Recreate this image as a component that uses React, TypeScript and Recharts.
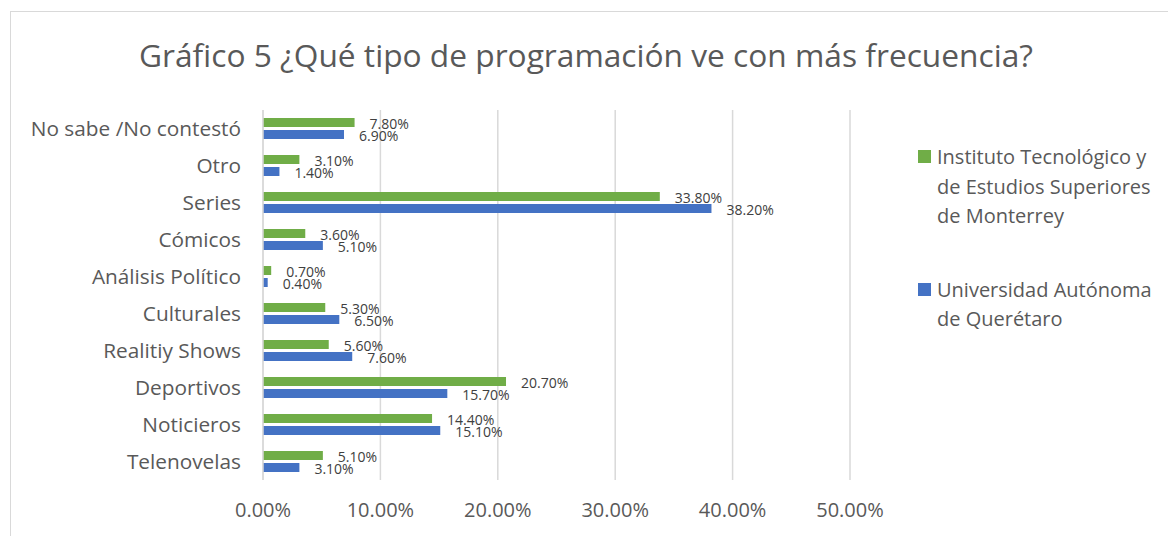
import React from 'react';
import { BarChart, Bar, XAxis, YAxis, CartesianGrid, LabelList } from 'recharts';

const categories = [
  'No sabe /No contestó',
  'Otro',
  'Series',
  'Cómicos',
  'Análisis Político',
  'Culturales',
  'Realitiy Shows',
  'Deportivos',
  'Noticieros',
  'Telenovelas',
];

const itesmValues = [7.8, 3.1, 33.8, 3.6, 0.7, 5.3, 5.6, 20.7, 14.4, 5.1];
const uaqValues = [6.9, 1.4, 38.2, 5.1, 0.4, 6.5, 7.6, 15.7, 15.1, 3.1];

const xTicks = [0, 10, 20, 30, 40, 50];

const FONT = '"Open Sans", sans-serif';
const GREEN = '#70ad47';
const BLUE = '#4472c4';
const TEXT = '#595959';

const data = categories.map((name, i) => ({
  name,
  itesm: itesmValues[i],
  uaq: uaqValues[i],
}));

const pct = (v: number) => `${Number(v).toFixed(2)}%`;

const legendItems = [
  { color: GREEN, lines: ['Instituto Tecnológico y', 'de Estudios Superiores', 'de Monterrey'] },
  { color: BLUE, lines: ['Universidad Autónoma', 'de Querétaro'] },
];

const ChartLegend = () => (
  <div style={{ fontFamily: FONT, fontSize: 20, color: TEXT, lineHeight: '29.5px' }}>
    {legendItems.map((item, idx) => (
      <div key={idx} style={{ display: 'flex', alignItems: 'flex-start', marginBottom: idx === 0 ? 44 : 0 }}>
        <div style={{ width: 13, height: 13, background: item.color, marginTop: 8, marginRight: 6, flexShrink: 0 }} />
        <div>
          {item.lines.map((l) => (
            <div key={l} style={{ whiteSpace: 'nowrap' }}>{l}</div>
          ))}
        </div>
      </div>
    ))}
  </div>
);

// data labels sit a little below the bar centre, as in the original
const labelStyle = { fill: '#404040', fontSize: 14, fontFamily: FONT };

export default function App() {
  return (
    <div style={{ position: 'relative', width: 1168, height: 528, overflow: 'hidden', background: '#fff' }}>
      <div
        style={{
          position: 'absolute', left: 2, top: 3, width: 1300, height: 700,
          border: '1.5px solid #d9d9d9', boxSizing: 'border-box',
        }}
      />
      <div
        style={{
          position: 'absolute', left: 0, width: 1156, top: 27, textAlign: 'center',
          fontFamily: FONT, fontSize: 31.7, color: TEXT, lineHeight: '40px', whiteSpace: 'nowrap',
        }}
      >
        Gráfico 5 ¿Qué tipo de programación ve con más frecuencia?
      </div>
      <div style={{ position: 'absolute', left: 0, top: 0 }}>
        <BarChart
          width={1168}
          height={528}
          data={data}
          layout="vertical"
          margin={{ top: 102, right: 326, bottom: 16, left: 10 }}
          barSize={9}
          barGap={3}
        >
          <CartesianGrid horizontal={false} stroke="#d9d9d9" strokeWidth={1.5} />
          <XAxis
            type="number"
            domain={[0, 50]}
            ticks={xTicks}
            tickFormatter={pct}
            axisLine={false}
            tickLine={false}
            tick={{ fill: TEXT, fontSize: 20, fontFamily: FONT }}
            tickMargin={17}
            height={40}
            interval={0}
          />
          <YAxis
            type="category"
            dataKey="name"
            width={245}
            axisLine={{ stroke: '#d9d9d9', strokeWidth: 1.5 }}
            tickLine={false}
            tickMargin={16}
            tick={{ fill: TEXT, fontSize: 20.8, fontFamily: FONT }}
            interval={0}
          />
          <Bar dataKey="itesm" fill={GREEN} isAnimationActive={false}>
            <LabelList dataKey="itesm" position="right" offset={15} formatter={pct} dy={2} style={labelStyle} />
          </Bar>
          <Bar dataKey="uaq" fill={BLUE} isAnimationActive={false}>
            <LabelList dataKey="uaq" position="right" offset={15} formatter={pct} dy={2} style={labelStyle} />
          </Bar>
        </BarChart>
      </div>
      <div style={{ position: 'absolute', left: 910, top: 134 }}>
        <ChartLegend />
      </div>
    </div>
  );
}
